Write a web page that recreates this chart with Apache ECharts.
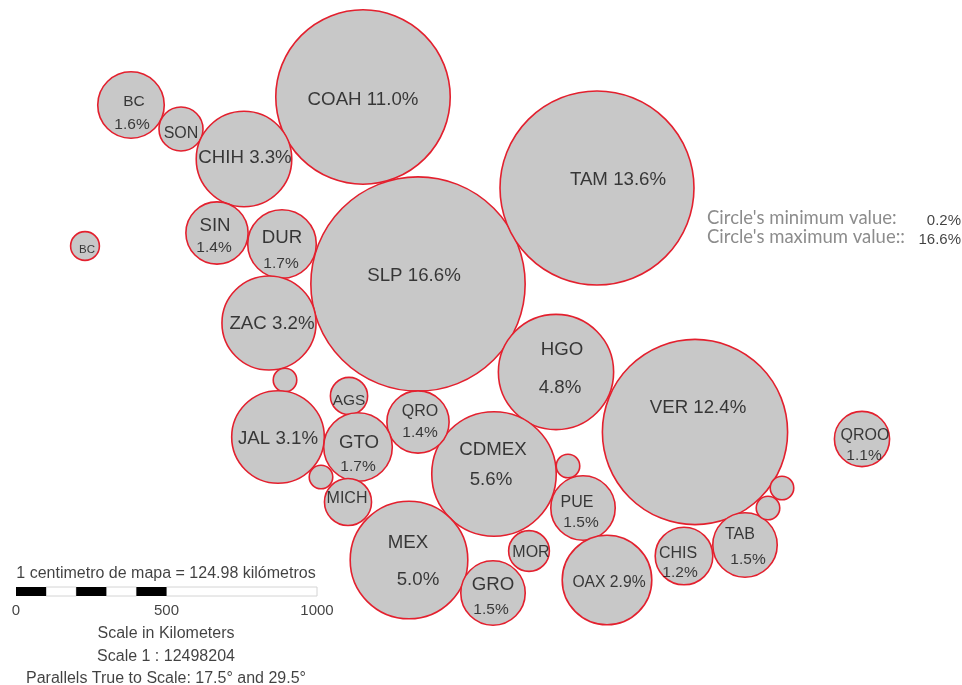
<!DOCTYPE html>
<html>
<head>
<meta charset="utf-8">
<style>
  html, body { margin: 0; padding: 0; background: #fff; }
  #chart { width: 962px; height: 685px; }
</style>
<script src="https://cdn.jsdelivr.net/npm/echarts@6/dist/echarts.min.js"></script>
</head>
<body>
<div id="chart"></div>
<script>
// circles: state, map position, share in %
const states = ['SLP','COAH','TAM','VER','HGO','CDMEX','MEX','BC','SON','CHIH','SIN','DUR','ZAC','BCS','NAY','AGS','QRO','JAL','GTO','COL','MICH','PUE','TLAX','MOR','GRO','OAX','CHIS','TAB','CAMP','YUC','QROO'];
const mapX = [418,363,597,695,556,494,409,131,181,244,217,282,269,85,285,349,418,278,358,321,348,583,568,529,493,607,684,745,768,782,862];
const mapY = [284,97,188,432,372,474,560,105,129,159,233,244,323,246,380,396,422,437,447,477,502,508,466,551,593,580,556,545,508,488,439];
const shares = [16.6,11.0,13.6,12.4,4.8,5.6,5.0,1.6,0.7,3.3,1.4,1.7,3.2,0.3,0.2,0.5,1.4,3.1,1.7,0.2,0.8,1.5,0.2,0.6,1.5,2.9,1.2,1.5,0.2,0.2,1.1];

// labels inside the circles
const labelText = ['COAH 11.0%','TAM 13.6%','SLP 16.6%','VER 12.4%','HGO','4.8%','CDMEX','5.6%','MEX','5.0%','BC','1.6%','SON','CHIH 3.3%','SIN','1.4%','DUR','1.7%','ZAC 3.2%','BC','AGS','QRO','1.4%','JAL 3.1%','GTO','1.7%','MICH','PUE','1.5%','MOR','GRO','1.5%','OAX 2.9%','CHIS','1.2%','TAB','1.5%','QROO','1.1%'];
const labelX = [363,618,414,698,562,560,493,491,408,418,134,132,181,245,215,214,282,281,272,87,349,420,420,278,359,358,347,577,581,531,493,491,609,678,680,740,748,865,864];
const labelY = [98,178,274,406,348,386,448,478,541,578,100,123,132,156,224,246,236,262,322,248,399,410,431,437,441,465,497,501,521,551,583,608,581,552,571,533,558,434,454];
const labelSize = [18.7,18.7,18.7,18.7,18.7,18.7,18.7,18.7,18.7,18.7,15.5,15.5,16,18.7,18.7,15.5,18.7,15.5,18.7,11.5,15.5,16,15.5,18.7,18.7,15.5,16,16,15.5,16,18.7,15.5,15.7,16,15.5,16,15.5,16,15.5];

// scale bar, in km
const scaleBlack = [[0,100],[200,300],[400,500]];
const scaleWhite = [[100,200],[300,400],[500,1000]];
const scaleTicks = [0,500,1000];
const scaleNotes = ['1 centimetro de mapa = 124.98 kilómetros','Scale in Kilometers','Scale 1 : 12498204','Parallels True to Scale: 17.5° and 29.5°'];
const scaleNoteY = [572,632,655,677];

// min / max note
const rangeNames = ["Circle's minimum value:","Circle's maximum value::"];
const rangeValues = ['0.2%','16.6%'];
const rangeY = [218,237];

const PX_PER_KM = 0.301;
const SCALE_LEFT = 16;
const kmX = km => SCALE_LEFT + km * PX_PER_KM;
const textFont = 'Liberation Sans';

// circle area follows the share
const radiusOf = v => 26.3 * Math.sqrt(v);

function textSeries(rows, align) {
  return {
    type: 'scatter',
    symbolSize: 0,
    silent: true,
    z: 5,
    data: rows.map(r => ({
      value: [r.x, r.y],
      label: {
        show: true,
        position: 'inside',
        align: align,
        verticalAlign: 'middle',
        offset: [0, 1.5],
        formatter: () => r.text,
        fontFamily: r.font || textFont,
        fontSize: r.size,
        fontWeight: r.weight || 'normal',
        color: r.color || '#111'
      }
    }))
  };
}

function barSeries(parts, color) {
  return {
    type: 'custom',
    silent: true,
    z: 3,
    data: parts,
    renderItem: (params, api) => {
      const a = api.coord([kmX(api.value(0)), 587]);
      const b = api.coord([kmX(api.value(1)), 596]);
      return {
        type: 'rect',
        shape: { x: a[0], y: a[1], width: b[0] - a[0], height: b[1] - a[1] },
        style: { fill: color, stroke: color === '#fff' ? '#d4d4d4' : null, lineWidth: 1 }
      };
    }
  };
}

const chart = echarts.init(document.getElementById('chart'));

chart.setOption({
  animation: false,
  backgroundColor: '#fff',
  grid: { left: 0, right: 0, top: 0, bottom: 0 },
  xAxis: { type: 'value', min: 0, max: 962, show: false },
  yAxis: { type: 'value', min: 0, max: 685, inverse: true, show: false },
  series: [
    {
      type: 'scatter',
      silent: true,
      z: 2,
      data: states.map((s, i) => ({ name: s, value: [mapX[i], mapY[i], shares[i]] })),
      symbolSize: v => radiusOf(v[2]) * 2,
      itemStyle: { color: '#c8c8c8', opacity: 1, borderColor: '#e3202e', borderWidth: 1.6 }
    },
    textSeries(labelText.map((t, i) => ({ text: t, x: labelX[i], y: labelY[i], size: labelSize[i] })), 'center'),
    barSeries(scaleWhite, '#fff'),
    barSeries(scaleBlack, '#000'),
    textSeries(scaleTicks.map(k => ({ text: String(k), x: kmX(k), y: 609, size: 15 }))
      .concat(scaleNotes.map((t, i) => ({ text: t, x: 166, y: scaleNoteY[i], size: 16 }))), 'center'),
    textSeries(rangeNames.map((t, i) => ({ text: t, x: 707, y: rangeY[i] - 1, size: 18.5, color: '#6f6f6f', font: 'Lato' })), 'left'),
    textSeries(rangeValues.map((t, i) => ({ text: t, x: 961, y: rangeY[i] + 1, size: 15 })), 'right')
  ]
});
</script>
</body>
</html>
